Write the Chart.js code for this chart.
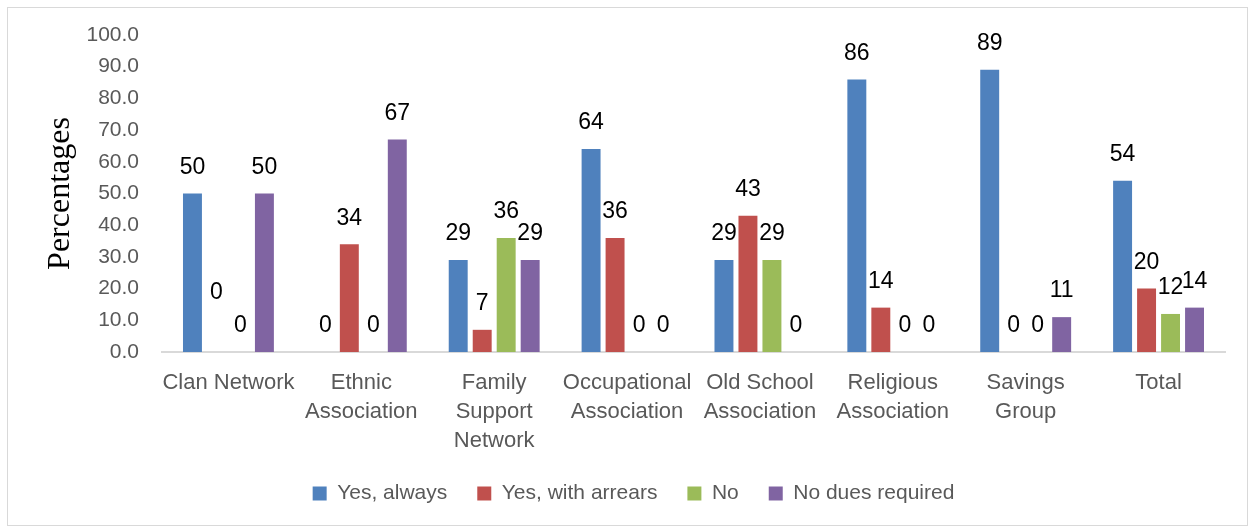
<!DOCTYPE html>
<html>
<head>
<meta charset="utf-8">
<title>Payment of dues by group type</title>
<script src="https://cdn.jsdelivr.net/npm/chart.js@4.4.1/dist/chart.umd.min.js"></script>
<style>
  html, body { margin: 0; padding: 0; background: #fff; }
  .chart-box {
    position: absolute;
    left: 7px;
    top: 7px;
    width: 1239px;
    height: 517px;
    border: 1px solid #d9d9d9;
    box-sizing: content-box;
  }
  canvas { display: block; }
</style>
</head>
<body>
<div class="chart-box">
  <canvas id="dues-chart" width="1239" height="517"></canvas>
</div>
<script>
const categories = [
    'Clan Network',
    ['Ethnic', 'Association'],
    ['Family', 'Support', 'Network'],
    ['Occupational', 'Association'],
    ['Old School', 'Association'],
    ['Religious', 'Association'],
    ['Savings', 'Group'],
    'Total'
];

const yesAlways = [50, 0, 29, 64, 29, 86, 89, 54];
const yesWithArrears = [0, 34, 7, 36, 43, 14, 0, 20];
const noPayment = [0, 0, 36, 0, 29, 0, 0, 12];
const noDuesRequired = [50, 67, 29, 0, 0, 0, 11, 14];

const yTicks = [0, 10, 20, 30, 40, 50, 60, 70, 80, 90, 100];

const FONT = "'Liberation Sans', Arial, sans-serif";
const GREY = '#595959';

// Value labels above each bar
const barLabels = {
    id: 'barLabels',
    afterDatasetsDraw(chart) {
        const ctx = chart.ctx;
        ctx.save();
        ctx.font = '23px ' + FONT;
        ctx.fillStyle = '#000';
        ctx.textAlign = 'center';
        ctx.textBaseline = 'middle';
        chart.data.datasets.forEach((ds, di) => {
            const meta = chart.getDatasetMeta(di);
            meta.data.forEach((bar, i) => {
                let y = bar.y - 26;
                // the zero label for arrears on the first group sits higher
                if (di === 1 && i === 0) y -= 33;
                ctx.fillText(String(ds.data[i]), bar.x, y);
            });
        });
        ctx.restore();
    }
};

// nudge the legend a little right of the canvas centre
const legendShift = {
    id: 'legendShift',
    afterLayout(chart) {
        chart.legend.left += 17;
        chart.legend.right += 17;
    }
};

new Chart(document.getElementById('dues-chart'), {
    type: 'bar',
    data: {
        labels: categories,
        datasets: [
            { label: 'Yes, always', data: yesAlways, backgroundColor: '#4F81BD' },
            { label: 'Yes, with arrears', data: yesWithArrears, backgroundColor: '#C0504D' },
            { label: 'No', data: noPayment, backgroundColor: '#9BBB59' },
            { label: 'No dues required', data: noDuesRequired, backgroundColor: '#8064A2' }
        ]
    },
    options: {
        responsive: false,
        animation: false,
        categoryPercentage: 0.722,
        barPercentage: 0.79,
        layout: {
            padding: { left: 0, right: 22, top: 27, bottom: 11 }
        },
        scales: {
            x: {
                grid: { display: false, drawTicks: false },
                border: { display: true, color: '#d9d9d9', width: 2 },
                ticks: {
                    color: GREY,
                    padding: 16,
                    maxRotation: 0,
                    autoSkip: false,
                    font: { family: FONT, size: 22, lineHeight: 1.32 }
                },
                afterFit(scale) { scale.height = 101; }
            },
            y: {
                min: 0,
                max: 100,
                afterBuildTicks(scale) {
                    scale.ticks = yTicks.map(v => ({ value: v }));
                },
                grid: { display: false, drawTicks: false },
                border: { display: false },
                ticks: {
                    color: GREY,
                    padding: 23,
                    font: { family: FONT, size: 21 },
                    callback: v => Number(v).toFixed(1)
                },
                title: {
                    display: true,
                    text: 'Percentages',
                    color: '#000',
                    padding: { top: 33 },
                    font: { family: "'Liberation Serif', 'Times New Roman', serif", size: 32, lineHeight: 1.2 }
                },
                afterFit(scale) {
                    scale.width = 154;
                    scale.paddingTop = 0;
                    scale.paddingBottom = 0;
                }
            }
        },
        plugins: {
            legend: {
                position: 'bottom',
                labels: {
                    color: GREY,
                    boxWidth: 14,
                    boxHeight: 14,
                    padding: 30,
                    font: { family: FONT, size: 21 }
                }
            },
            tooltip: { enabled: false }
        }
    },
    plugins: [barLabels, legendShift]
});
</script>
</body>
</html>
